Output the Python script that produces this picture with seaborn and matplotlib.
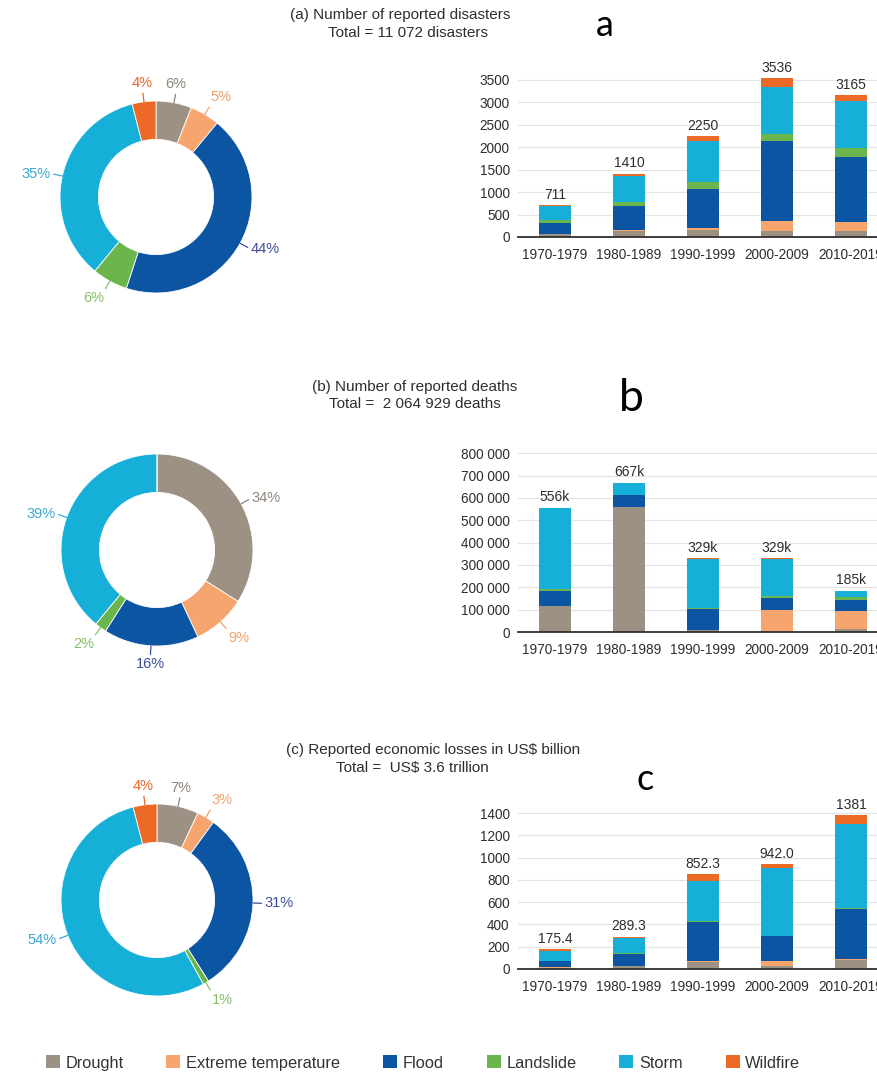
import numpy as np
import pandas as pd
import matplotlib
matplotlib.use("Agg")
import matplotlib.pyplot as plt
import seaborn as sns
from matplotlib.patches import Patch

# ---------------------------------------------------------------- data
decades = ["1970-1979", "1980-1989", "1990-1999", "2000-2009", "2010-2019"]
hazards = ["Drought", "Extreme temperature", "Flood", "Landslide", "Storm", "Wildfire"]

# (a) number of reported disasters per decade
disasters_drought = [65, 130, 160, 135, 135]
disasters_extreme_temp = [10, 25, 40, 225, 200]
disasters_flood = [238, 530, 880, 1775, 1450]
disasters_landslide = [60, 95, 145, 155, 190]
disasters_storm = [308, 575, 925, 1060, 1060]
disasters_wildfire = [30, 55, 100, 186, 130]
disasters_bar_labels = ["711", "1410", "2250", "3536", "3165"]
disasters_share = [6, 5, 44, 6, 35, 4]

# (b) number of reported deaths per decade
deaths_drought = [115000, 560000, 8500, 2000, 13000]
deaths_extreme_temp = [500, 1000, 1500, 95000, 80000]
deaths_flood = [70000, 51500, 92000, 57000, 52000]
deaths_landslide = [5000, 2000, 7500, 8500, 10500]
deaths_storm = [365000, 52000, 219000, 166000, 29000]
deaths_wildfire = [500, 500, 500, 500, 500]
deaths_bar_labels = ["556k", "667k", "329k", "329k", "185k"]
deaths_share = [34, 9, 16, 2, 39, 0]

# (c) reported economic losses (US$ billion) per decade
losses_drought = [12, 28, 65, 30, 85]
losses_extreme_temp = [10, 3, 5, 38, 5]
losses_flood = [47, 100, 350, 225, 450]
losses_landslide = [1, 10, 9, 5, 7]
losses_storm = [96, 135, 365, 605, 752]
losses_wildfire = [9.4, 13.3, 58.3, 39, 82]
losses_bar_labels = ["175.4", "289.3", "852.3", "942.0", "1381"]
losses_share = [7, 3, 31, 1, 54, 4]

disasters_ticks = [0, 500, 1000, 1500, 2000, 2500, 3000, 3500]
disasters_tick_labels = ["0", "500", "1000", "1500", "2000", "2500", "3000", "3500"]
deaths_ticks = [0, 100000, 200000, 300000, 400000, 500000, 600000, 700000, 800000]
deaths_tick_labels = ["0", "100 000", "200 000", "300 000", "400 000",
                      "500 000", "600 000", "700 000", "800 000"]
losses_ticks = [0, 200, 400, 600, 800, 1000, 1200, 1400]
losses_tick_labels = ["0", "200", "400", "600", "800", "1000", "1200", "1400"]

# ---------------------------------------------------------------- style
hazard_colors = ["#9d9184", "#f7a56f", "#0b55a3", "#6ab64c", "#16afd8", "#ec6a26"]
label_colors = ["#8e857b", "#f2a06e", "#3e4f9b", "#84bf69", "#3aa8d4", "#e8672a"]
text_color = "#2e2e2e"

sns.set_theme(style="white")
plt.rcParams["font.family"] = ["Liberation Sans", "DejaVu Sans"]

W, H = 877, 1074
fig = plt.figure(figsize=(W / 100, H / 100), dpi=100)
fig.patch.set_facecolor("white")


def fx(px):
    return px / W


def fy(py):
    return 1 - py / H


def stacked_bars(rect, layers, bar_labels, ticks, tick_labels, ymax):
    ax = fig.add_axes(rect)
    table = pd.DataFrame(layers, index=hazards, columns=decades)
    tops = table.cumsum(axis=0)
    long = (tops.reset_index(names="hazard")
                .melt(id_vars="hazard", var_name="decade", value_name="top"))
    # draw cumulative heights from the top layer down so each segment shows
    for hz, col in reversed(list(zip(hazards, hazard_colors))):
        sub = long[long["hazard"] == hz]
        sns.barplot(data=sub, x="decade", y="top", order=decades, color=col,
                    saturation=1, width=0.42, errorbar=None, ax=ax,
                    linewidth=0, edgecolor="none")
    totals = tops.iloc[-1].values
    for i, (tot, lab) in enumerate(zip(totals, bar_labels)):
        ax.annotate(lab, (i, tot), xytext=(0, 2.5), textcoords="offset points",
                    ha="center", va="bottom", fontsize=10, color=text_color,
                    annotation_clip=False)
    ax.set_xlim(-0.5, 4.5)
    ax.set_ylim(0, ymax)
    ax.set_yticks(ticks)
    ax.set_yticklabels(tick_labels)
    ax.set_xlabel("")
    ax.set_ylabel("")
    ax.grid(axis="y", color="#e3e3e3", linewidth=0.8)
    ax.grid(axis="x", visible=False)
    ax.set_axisbelow(True)
    for side in ["left", "top", "right"]:
        ax.spines[side].set_visible(False)
    ax.spines["bottom"].set_color("#2f2f2f")
    ax.spines["bottom"].set_linewidth(1.3)
    ax.tick_params(axis="both", length=0, labelsize=9.8, colors=text_color)
    ax.tick_params(axis="x", pad=8)
    ax.tick_params(axis="y", pad=6)
    ax.set_facecolor("none")
    return ax


def donut(cx, cy, shares, size=288, lim=1.5):
    rect = [fx(cx - size / 2), fy(cy + size / 2), size / W, size / H]
    ax = fig.add_axes(rect)
    wedges, _ = ax.pie(shares, colors=hazard_colors, startangle=90,
                       counterclock=False, radius=1,
                       wedgeprops=dict(width=0.4, edgecolor="white", linewidth=0.6))
    for w, share, lc in zip(wedges, shares, label_colors):
        if share <= 0:
            continue
        ang = np.deg2rad((w.theta1 + w.theta2) / 2)
        c, s = np.cos(ang), np.sin(ang)
        ax.plot([c * 1.0, c * 1.09], [s * 1.0, s * 1.09], color=lc, lw=0.9)
        ha = "left" if c > 0.3 else ("right" if c < -0.3 else "center")
        va = "bottom" if s > 0.75 else ("top" if s < -0.75 else "center")
        ax.text(c * 1.12, s * 1.12, f"{share}%", ha=ha, va=va,
                fontsize=10.5, color=lc)
    ax.set_xlim(-lim, lim)
    ax.set_ylim(-lim, lim)
    ax.set_aspect("equal")
    ax.axis("off")
    return ax


# ---------------------------------------------------------------- panels
bar_left, bar_width = fx(518), 370 / W

stacked_bars([bar_left, fy(237), bar_width, 166 / H],
             [disasters_drought, disasters_extreme_temp, disasters_flood,
              disasters_landslide, disasters_storm, disasters_wildfire],
             disasters_bar_labels, disasters_ticks, disasters_tick_labels, 3700)

stacked_bars([bar_left, fy(632), bar_width, 190 / H],
             [deaths_drought, deaths_extreme_temp, deaths_flood,
              deaths_landslide, deaths_storm, deaths_wildfire],
             deaths_bar_labels, deaths_ticks, deaths_tick_labels, 850000)

stacked_bars([bar_left, fy(969), bar_width, 167 / H],
             [losses_drought, losses_extreme_temp, losses_flood,
              losses_landslide, losses_storm, losses_wildfire],
             losses_bar_labels, losses_ticks, losses_tick_labels, 1500)

donut(156, 197, disasters_share)
donut(157, 550, deaths_share)
donut(157, 900, losses_share)

# ---------------------------------------------------------------- titles
title_kw = dict(ha="center", va="center", fontsize=11, color=text_color)
fig.text(fx(400), fy(15), "(a) Number of reported disasters", **title_kw)
fig.text(fx(408), fy(33), "Total = 11 072 disasters", **title_kw)
fig.text(fx(415), fy(387), "(b) Number of reported deaths", **title_kw)
fig.text(fx(415), fy(404), "Total =  2 064 929 deaths", **title_kw)
fig.text(fx(433), fy(750), "(c) Reported economic losses in US$ billion", **title_kw)
fig.text(fx(412), fy(768), "Total =  US$ 3.6 trillion", **title_kw)

letter_kw = dict(ha="center", va="baseline", color="black",
                 family=["Lato", "DejaVu Sans"])
fig.text(fx(605), fy(36), "a", fontsize=26, **letter_kw)
fig.text(fx(631), fy(411), "b", fontsize=32, **letter_kw)
fig.text(fx(645), fy(790), "c", fontsize=26, **letter_kw)

# ---------------------------------------------------------------- legend
handles = [Patch(facecolor=c, edgecolor="none") for c in hazard_colors]
fig.legend(handles, hazards, loc="center", bbox_to_anchor=(fx(423), fy(1063)),
           ncol=6, frameon=False, fontsize=11.8, handlelength=0.85,
           handleheight=0.85, handletextpad=0.35, columnspacing=2.62,
           labelcolor="#333333")

fig.savefig("out.png", dpi=100, facecolor="white")
